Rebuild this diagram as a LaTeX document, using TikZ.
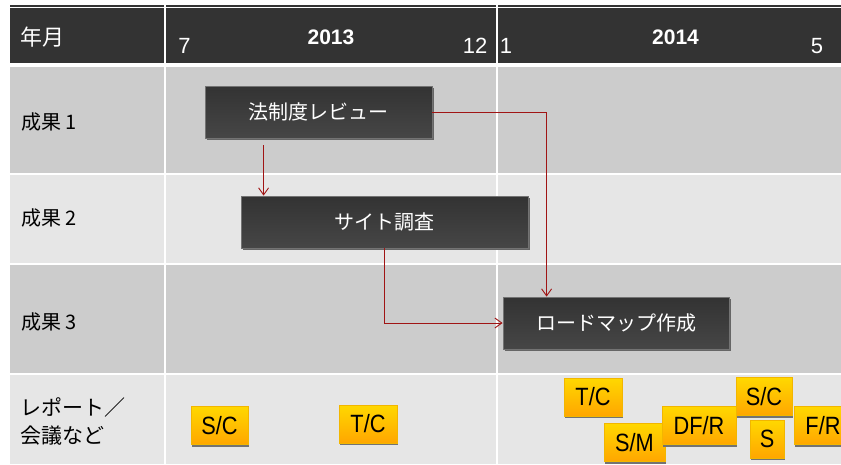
\documentclass[tikz,border=0pt]{standalone}
\usepackage{fontspec}
\setmainfont{Liberation Sans}
\newfontfamily\jp{Noto Sans CJK JP}
\newfontfamily\narrowf[FakeStretch=0.87]{Liberation Sans}
\usetikzlibrary{arrows.meta,shadows}
\definecolor{hdr}{HTML}{333333}
\definecolor{rowA}{HTML}{CCCCCC}
\definecolor{rowB}{HTML}{E6E6E6}
\definecolor{arrred}{HTML}{A01414}
\definecolor{ytop}{HTML}{FFD800}
\definecolor{ybot}{HTML}{FFA600}
\definecolor{yedge}{HTML}{F2B600}
\definecolor{dtop}{HTML}{333333}
\definecolor{dbot}{HTML}{464646}
\begin{document}
\begin{tikzpicture}[x=1pt,y=-1pt,
  hdrtxt/.style={text=white, inner sep=0pt, font=\fontsize{22}{26}\selectfont},
  yeartxt/.style={text=white, inner sep=0pt, font=\bfseries\fontsize{21}{25}\selectfont},
  rowtxt/.style={text=black, inner sep=0pt, anchor=west, font=\jp\fontsize{20}{24}\selectfont},
  darkbox/.style={draw=black!55, line width=0.8pt, top color=dtop, bottom color=dbot,
    text=white, inner sep=0pt, minimum height=52pt,
    font=\jp\fontsize{20}{24}\selectfont,
    drop shadow={shadow xshift=1.5pt, shadow yshift=-1.8pt, fill=black!60, opacity=1}},
  ybox/.style={draw=yedge, line width=0.8pt, top color=ytop, bottom color=ybot,
    text=black, inner sep=0pt, minimum height=38pt,
    font=\narrowf\fontsize{25}{30}\selectfont,
    drop shadow={shadow xshift=1pt, shadow yshift=-2.2pt, fill=black!55, opacity=1}},
  arr/.style={draw=arrred, line width=0.9pt, -{Straight Barb[length=7pt,width=10pt]}}
]
\useasboundingbox (0,0) rectangle (841,464);
\clip (0,0) rectangle (841,464);
\fill[white] (0,0) rectangle (841,464);
% table
\draw[hdr, line width=1.2pt] (10,6) -- (841,6);
\fill[hdr] (10,8) rectangle (841,63);
\fill[rowA] (10,67) rectangle (841,173);
\fill[rowB] (10,175) rectangle (841,263);
\fill[rowA] (10,265) rectangle (841,373);
\fill[rowB] (10,375) rectangle (841,464);
\draw[white, line width=1.5pt] (165,4) -- (165,464) (497,4) -- (497,464);
% header texts
\node[hdrtxt, anchor=west, font=\jp\fontsize{22}{26}\selectfont] (ym) at (20,37) {年月};
\node[hdrtxt] (m7) at (184.5,46) {7};
\node[yeartxt] (y13) at (331,37.5) {2013};
\node[hdrtxt] (m12) at (475,46) {12};
\node[hdrtxt] (m1) at (506,46) {1};
\node[yeartxt] (y14) at (675.5,37.5) {2014};
\node[hdrtxt] (m5) at (817,46.5) {5};
% row labels
\node[rowtxt] (r1) at (21,122) {成果 1};
\node[rowtxt] (r2) at (21,218) {成果 2};
\node[rowtxt] (r3) at (21,322) {成果 3};
\node[rowtxt, font=\jp\fontsize{21}{25}\selectfont] (r4a) at (20,407.5) {レポート／};
\node[rowtxt, font=\jp\fontsize{21}{25}\selectfont] (r4b) at (20,435.5) {会議など};
% task boxes
\node[darkbox, minimum width=227pt] (lr) at (318.5,112) {法制度レビュー};
\node[darkbox, minimum width=287pt] (sv) at (384.5,222) {サイト調査};
\node[darkbox, minimum width=226pt] (rm) at (616,323) {ロードマップ作成};
% connectors
\draw[arr, shorten <=7pt] ([xshift=59pt]lr.south west) -- ([xshift=23pt]sv.north west);
\draw[arr] (lr.east) -| ([xshift=44pt]rm.north west);
\draw[arr] ([xshift=144pt]sv.south west) |- (rm.west);
% report / meeting boxes
\node[ybox, minimum width=57pt] (b1) at (219.5,425.5) {S/C};
\node[ybox, minimum width=58pt] (b2) at (368,424) {T/C};
\node[ybox, minimum width=58pt] (b3) at (593,397) {T/C};
\node[ybox, minimum width=61pt] (b4) at (634.5,442.5) {S/M};
\node[ybox, minimum width=74pt] (b5) at (699,425.5) {DF/R};
\node[ybox, minimum width=56pt] (b6) at (764,396.5) {S/C};
\node[ybox, minimum width=34pt] (b7) at (767,439) {S};
\node[ybox, minimum width=58pt] (b8) at (823,425.5) {F/R};
\end{tikzpicture}
\end{document}
